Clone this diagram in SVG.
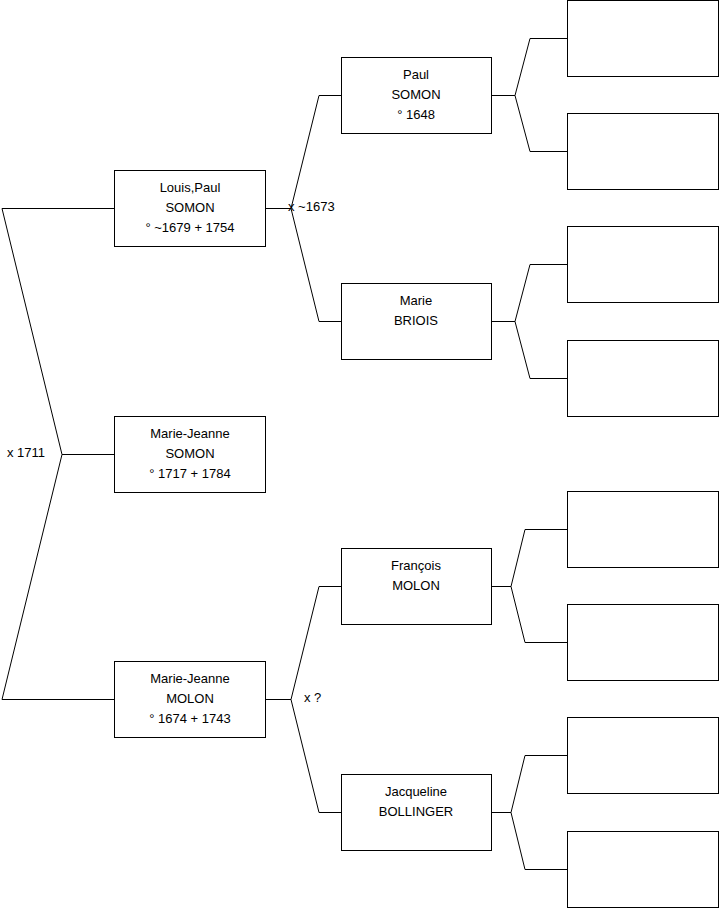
<svg xmlns="http://www.w3.org/2000/svg" width="719" height="908" viewBox="0 0 719 908">
<style>
.box{fill:#fff;stroke:#000;stroke-width:1}
.ln{fill:none;stroke:#000;stroke-width:1}
text{font-family:"Liberation Sans",Arial,sans-serif;font-size:13px;fill:#000}
.c{text-anchor:middle}
</style>
<rect width="719" height="908" fill="#fff"/>
<g id="connectors">
<polyline class="ln" points="114,208.5 2,208.5 62,454.5 2,699.5 114,699.5"/>
<line class="ln" x1="62" y1="454.5" x2="114" y2="454.5"/>
<polyline class="ln" points="341,95.5 319,95.5 291,208.5 319,321.5 341,321.5"/>
<line class="ln" x1="265" y1="208.5" x2="291" y2="208.5"/>
<polyline class="ln" points="341,586.5 319,586.5 291,699.5 319,812.5 341,812.5"/>
<line class="ln" x1="265" y1="699.5" x2="291" y2="699.5"/>
<polyline class="ln" points="567,38.5 530,38.5 515,95.5 530,151.5 567,151.5"/>
<line class="ln" x1="491" y1="95.5" x2="515" y2="95.5"/>
<polyline class="ln" points="567,264.5 530,264.5 515,321.5 530,378.5 567,378.5"/>
<line class="ln" x1="491" y1="321.5" x2="515" y2="321.5"/>
<polyline class="ln" points="567,529.5 525,529.5 511,586.5 525,642.5 567,642.5"/>
<line class="ln" x1="491" y1="586.5" x2="511" y2="586.5"/>
<polyline class="ln" points="567,755.5 525,755.5 511,812.5 525,869.5 567,869.5"/>
<line class="ln" x1="491" y1="812.5" x2="511" y2="812.5"/>
<text x="7" y="457">x 1711</text>
<text x="288" y="211">x ~1673</text>
<text x="304" y="702">x ?</text>
</g>
<g id="louis-paul-somon">
<rect class="box" x="114.5" y="170.5" width="151" height="76"/>
<text class="c" x="190" y="191.5">Louis,Paul</text>
<text class="c" x="190" y="211.5">SOMON</text>
<text class="c" x="190" y="231.5">° ~1679 + 1754</text>
</g>
<g id="marie-jeanne-somon">
<rect class="box" x="114.5" y="416.5" width="151" height="76"/>
<text class="c" x="190" y="437.5">Marie-Jeanne</text>
<text class="c" x="190" y="457.5">SOMON</text>
<text class="c" x="190" y="477.5">° 1717 + 1784</text>
</g>
<g id="marie-jeanne-molon">
<rect class="box" x="114.5" y="661.5" width="151" height="76"/>
<text class="c" x="190" y="682.5">Marie-Jeanne</text>
<text class="c" x="190" y="702.5">MOLON</text>
<text class="c" x="190" y="722.5">° 1674 + 1743</text>
</g>
<g id="paul-somon">
<rect class="box" x="341.5" y="57.5" width="150" height="76"/>
<text class="c" x="416" y="78.5">Paul</text>
<text class="c" x="416" y="98.5">SOMON</text>
<text class="c" x="416" y="118.5">° 1648</text>
</g>
<g id="marie-briois">
<rect class="box" x="341.5" y="283.5" width="150" height="76"/>
<text class="c" x="416" y="304.5">Marie</text>
<text class="c" x="416" y="324.5">BRIOIS</text>
</g>
<g id="francois-molon">
<rect class="box" x="341.5" y="548.5" width="150" height="76"/>
<text class="c" x="416" y="569.5">François</text>
<text class="c" x="416" y="589.5">MOLON</text>
</g>
<g id="jacqueline-bollinger">
<rect class="box" x="341.5" y="774.5" width="150" height="76"/>
<text class="c" x="416" y="795.5">Jacqueline</text>
<text class="c" x="416" y="815.5">BOLLINGER</text>
</g>
<g id="empty-1"><rect class="box" x="567.5" y="0.5" width="151" height="76"/></g>
<g id="empty-2"><rect class="box" x="567.5" y="113.5" width="151" height="76"/></g>
<g id="empty-3"><rect class="box" x="567.5" y="226.5" width="151" height="76"/></g>
<g id="empty-4"><rect class="box" x="567.5" y="340.5" width="151" height="76"/></g>
<g id="empty-5"><rect class="box" x="567.5" y="491.5" width="151" height="76"/></g>
<g id="empty-6"><rect class="box" x="567.5" y="604.5" width="151" height="76"/></g>
<g id="empty-7"><rect class="box" x="567.5" y="717.5" width="151" height="76"/></g>
<g id="empty-8"><rect class="box" x="567.5" y="831.5" width="151" height="76"/></g>
</svg>
